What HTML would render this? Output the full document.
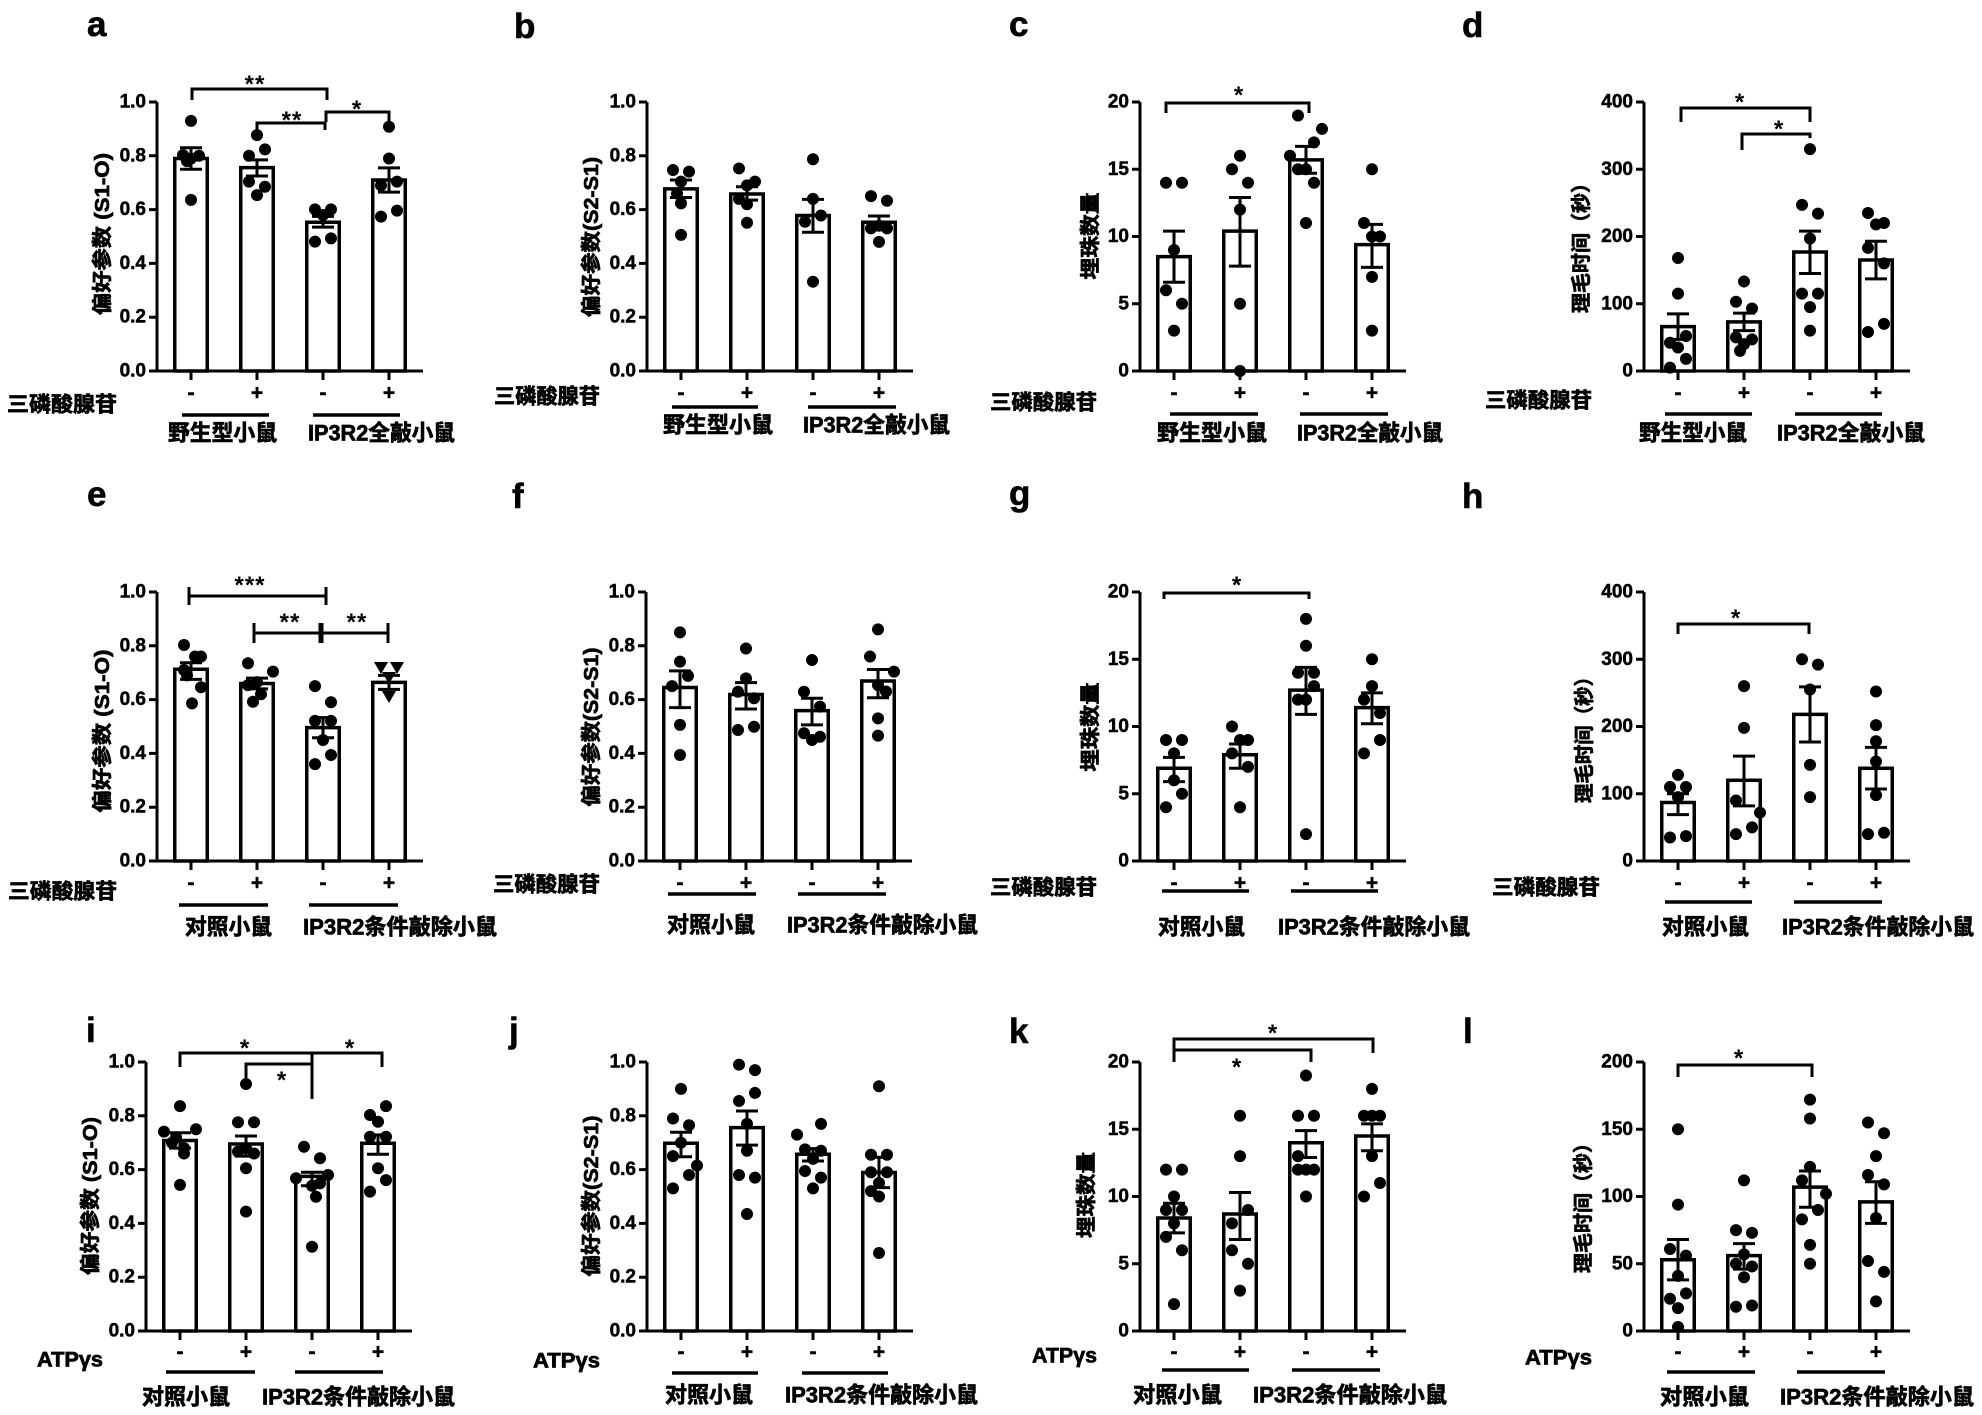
<!DOCTYPE html>
<html><head><meta charset="utf-8"><style>
html,body{margin:0;padding:0;background:#fff}
svg{display:block}
.ax{fill:none;stroke:#000;stroke-width:3}
.br{fill:#fff;stroke:#000;stroke-width:3.5px;vector-effect:non-scaling-stroke}
.dt{fill:none;stroke:#000;stroke-width:12px;stroke-linecap:round;vector-effect:non-scaling-stroke}
.er{fill:none;stroke:#000;stroke-width:3px;vector-effect:non-scaling-stroke}
.tl{font:bold 19px "Liberation Sans",sans-serif;text-anchor:end;dominant-baseline:central;stroke:#000;stroke-width:0.5px}
.cj{font-family:"Liberation Sans","Noto Sans CJK SC",sans-serif;font-weight:bold;font-size:21px;dominant-baseline:central;stroke:#000;stroke-width:0.7px}
.gt{font-family:"Liberation Sans","Noto Sans CJK SC",sans-serif;font-weight:bold;font-size:22px;dominant-baseline:central;stroke:#000;stroke-width:0.7px}
.yl{font-family:"Liberation Sans","Noto Sans CJK SC",sans-serif;font-weight:bold;font-size:20px;dominant-baseline:central;text-anchor:middle;stroke:#000;stroke-width:0.7px}
.pm{font:bold 21px "Liberation Sans",sans-serif;text-anchor:middle;dominant-baseline:central;stroke:#000;stroke-width:0.5px}
.st{font:bold 24px "Liberation Sans",sans-serif;text-anchor:middle;letter-spacing:1px}
.lt{font:bold 35px "Liberation Sans",sans-serif;stroke:#000;stroke-width:0.6px}
.gl{fill:none;stroke:#000;stroke-width:3.5}
.sg{fill:none;stroke:#000;stroke-width:3}
</style></head><body>
<svg width="1982" height="1415" viewBox="0 0 1982 1415" xmlns="http://www.w3.org/2000/svg">
<rect width="1982" height="1415" fill="#fff"/>

<!-- Panel letters -->
<text class="lt" x="87" y="36">a</text>
<text class="lt" x="514" y="38">b</text>
<text class="lt" x="1009" y="36">c</text>
<text class="lt" x="1462" y="37">d</text>
<text class="lt" x="87" y="506">e</text>
<text class="lt" x="512" y="508">f</text>
<text class="lt" x="1009" y="505">g</text>
<text class="lt" x="1462" y="508">h</text>
<text class="lt" x="86" y="1042">i</text>
<text class="lt" x="509" y="1042">j</text>
<text class="lt" x="1009" y="1043">k</text>
<text class="lt" x="1463" y="1043">l</text>

<!-- ================= Panel a ================= -->
<g transform="translate(157,371)">
<path class="ax" d="M0,-269V0H266"/>
<path class="ax" d="M-8,0H0M-8,-53.8H0M-8,-107.6H0M-8,-161.4H0M-8,-215.2H0M-8,-269H0M34,0v9M100,0v9M166,0v9M232,0v9"/>
<text class="tl" x="-11" y="0">0.0</text><text class="tl" x="-11" y="-53.8">0.2</text><text class="tl" x="-11" y="-107.6">0.4</text><text class="tl" x="-11" y="-161.4">0.6</text><text class="tl" x="-11" y="-215.2">0.8</text><text class="tl" x="-11" y="-269">1.0</text>
<text class="pm" x="34" y="22">-</text><text class="pm" x="100" y="22">+</text><text class="pm" x="166" y="22">-</text><text class="pm" x="232" y="22">+</text>
<g transform="scale(1,-269)">
<rect class="br" x="17.75" y="0" width="32.5" height=".79"/>
<rect class="br" x="83.75" y="0" width="32.5" height=".756"/>
<rect class="br" x="149.75" y="0" width="32.5" height=".553"/>
<rect class="br" x="215.75" y="0" width="32.5" height=".71"/>
<path class="dt" d="M34,.93h.01M26,.803h.01M42,.80h.01M34,.79h.01M30,.78h.01M34,.636h.01M100,.877h.01M108,.824h.01M92,.80h.01M92,.704h.01M108,.685h.01M100,.654h.01M158,.601h.01M174,.601h.01M166,.58h.01M158,.481h.01M174,.493h.01M232,.908h.01M232,.79h.01M240,.704h.01M224,.69h.01M240,.596h.01M224,.574h.01"/>
<path class="er" d="M34,.75V.83M23,.75h22M23,.83h22M100,.725V.785M89,.725h22M89,.785h22M166,.535V.575M155,.535h22M155,.575h22M232,.665V.755M221,.665h22M221,.755h22"/>
</g>
</g>
<text class="st" x="255" y="92">**</text>
<path class="sg" d="M192,100V89H327V100"/>
<text class="st" x="292" y="128">**</text>
<path class="sg" d="M257,130V123H325V130"/>
<text class="st" x="357" y="117">*</text>
<path class="sg" d="M326,122V112H389V122"/>
<text class="yl" transform="translate(103,234) rotate(-90)" textLength="162" lengthAdjust="spacingAndGlyphs">偏好参数 (S1-O)</text>
<text class="cj" x="7" y="405" textLength="110" lengthAdjust="spacingAndGlyphs">三磷酸腺苷</text>
<path class="gl" d="M182,415H269M313,415H400"/>
<text class="gt" x="168" y="433" textLength="109" lengthAdjust="spacingAndGlyphs">野生型小鼠</text>
<text class="gt" x="308" y="433" textLength="147" lengthAdjust="spacingAndGlyphs">IP3R2全敲小鼠</text>

<!-- ================= Panel b ================= -->
<g transform="translate(647,371)">
<path class="ax" d="M0,-269V0H266"/>
<path class="ax" d="M-8,0H0M-8,-53.8H0M-8,-107.6H0M-8,-161.4H0M-8,-215.2H0M-8,-269H0M34,0v9M100,0v9M166,0v9M232,0v9"/>
<text class="tl" x="-11" y="0">0.0</text><text class="tl" x="-11" y="-53.8">0.2</text><text class="tl" x="-11" y="-107.6">0.4</text><text class="tl" x="-11" y="-161.4">0.6</text><text class="tl" x="-11" y="-215.2">0.8</text><text class="tl" x="-11" y="-269">1.0</text>
<text class="pm" x="34" y="22">-</text><text class="pm" x="100" y="22">+</text><text class="pm" x="166" y="22">-</text><text class="pm" x="232" y="22">+</text>
<g transform="scale(1,-269)">
<rect class="br" x="17.75" y="0" width="32.5" height=".677"/>
<rect class="br" x="83.75" y="0" width="32.5" height=".658"/>
<rect class="br" x="149.75" y="0" width="32.5" height=".578"/>
<rect class="br" x="215.75" y="0" width="32.5" height=".553"/>
<path class="dt" d="M26,.747h.01M42,.741h.01M34,.704h.01M34,.623h.01M34,.506h.01M30,.66h.01M92,.753h.01M108,.704h.01M100,.69h.01M100,.62h.01M100,.551h.01M92,.64h.01M166,.787h.01M166,.64h.01M174,.578h.01M158,.555h.01M166,.332h.01M224,.65h.01M240,.633h.01M232,.54h.01M224,.53h.01M232,.48h.01M240,.53h.01"/>
<path class="er" d="M34,.645V.71M23,.645h22M23,.71h22M100,.635V.685M89,.635h22M89,.685h22M166,.516V.638M155,.516h22M155,.638h22M232,.526V.576M221,.526h22M221,.576h22"/>
</g>
</g>
<text class="yl" transform="translate(592,237) rotate(-90)" textLength="160" lengthAdjust="spacingAndGlyphs">偏好参数(S2-S1)</text>
<text class="cj" x="494" y="397" textLength="106" lengthAdjust="spacingAndGlyphs">三磷酸腺苷</text>
<path class="gl" d="M672,407H758M808,407H896"/>
<text class="gt" x="663" y="425" textLength="110" lengthAdjust="spacingAndGlyphs">野生型小鼠</text>
<text class="gt" x="803" y="425" textLength="147" lengthAdjust="spacingAndGlyphs">IP3R2全敲小鼠</text>

<!-- ================= Panel c ================= -->
<g transform="translate(1140,371)">
<path class="ax" d="M0,-269V0H266"/>
<path class="ax" d="M-8,0H0M-8,-67.25H0M-8,-134.5H0M-8,-201.75H0M-8,-269H0M34,0v9M100,0v9M166,0v9M232,0v9"/>
<text class="tl" x="-11" y="0">0</text><text class="tl" x="-11" y="-67.25">5</text><text class="tl" x="-11" y="-134.5">10</text><text class="tl" x="-11" y="-201.75">15</text><text class="tl" x="-11" y="-269">20</text>
<text class="pm" x="34" y="22">-</text><text class="pm" x="100" y="22">+</text><text class="pm" x="166" y="22">-</text><text class="pm" x="232" y="22">+</text>
<g transform="scale(1,-13.45)">
<rect class="br" x="17.75" y="0" width="32.5" height="8.5"/>
<rect class="br" x="83.75" y="0" width="32.5" height="10.4"/>
<rect class="br" x="149.75" y="0" width="32.5" height="15.7"/>
<rect class="br" x="215.75" y="0" width="32.5" height="9.4"/>
<path class="dt" d="M26,14h.01M42,14h.01M34,9h.01M26,6h.01M42,5h.01M34,3h.01M100,16h.01M92,15h.01M108,14h.01M100,12h.01M100,5h.01M100,0h.01M158,19h.01M182,18h.01M174,17h.01M150,16h.01M158,15h.01M166,15h.01M174,14h.01M166,11h.01M232,15h.01M224,11h.01M232,10h.01M240,10h.01M232,7h.01M232,3h.01"/>
<path class="er" d="M34,6.6V10.4M23,6.6h22M23,10.4h22M100,7.8V12.9M89,7.8h22M89,12.9h22M166,14.7V16.7M155,14.7h22M155,16.7h22M232,7.7V10.9M221,7.7h22M221,10.9h22"/>
</g>
</g>
<text class="st" x="1239" y="103">*</text>
<path class="sg" d="M1166,113V103H1309V113"/>
<text class="yl" transform="translate(1091,236) rotate(-90)" textLength="87" lengthAdjust="spacingAndGlyphs">埋珠数量</text>
<text class="cj" x="990" y="403" textLength="107" lengthAdjust="spacingAndGlyphs">三磷酸腺苷</text>
<path class="gl" d="M1170,414H1258M1300,414H1388"/>
<text class="gt" x="1157" y="433" textLength="110" lengthAdjust="spacingAndGlyphs">野生型小鼠</text>
<text class="gt" x="1297" y="433" textLength="146" lengthAdjust="spacingAndGlyphs">IP3R2全敲小鼠</text>

<!-- ================= Panel d ================= -->
<g transform="translate(1644,371)">
<path class="ax" d="M0,-269V0H266"/>
<path class="ax" d="M-8,0H0M-8,-67.25H0M-8,-134.5H0M-8,-201.75H0M-8,-269H0M34,0v9M100,0v9M166,0v9M232,0v9"/>
<text class="tl" x="-11" y="0">0</text><text class="tl" x="-11" y="-67.25">100</text><text class="tl" x="-11" y="-134.5">200</text><text class="tl" x="-11" y="-201.75">300</text><text class="tl" x="-11" y="-269">400</text>
<text class="pm" x="34" y="22">-</text><text class="pm" x="100" y="22">+</text><text class="pm" x="166" y="22">-</text><text class="pm" x="232" y="22">+</text>
<g transform="scale(1,-0.6725)">
<rect class="br" x="17.75" y="0" width="32.5" height="66"/>
<rect class="br" x="83.75" y="0" width="32.5" height="73"/>
<rect class="br" x="149.75" y="0" width="32.5" height="177"/>
<rect class="br" x="215.75" y="0" width="32.5" height="165"/>
<path class="dt" d="M34,168h.01M34,115h.01M42,52h.01M26,42h.01M34,35h.01M42,18h.01M26,5h.01M100,133h.01M92,103h.01M108,93h.01M92,50h.01M108,47h.01M100,40h.01M96,30h.01M166,330h.01M158,247h.01M174,234h.01M166,197h.01M158,115h.01M174,115h.01M166,95h.01M166,60h.01M224,235h.01M232,218h.01M240,220h.01M224,183h.01M240,160h.01M240,70h.01M224,58h.01"/>
<path class="er" d="M34,47V85M23,47h22M23,85h22M100,60V86M89,60h22M89,86h22M166,145V208M155,145h22M155,208h22M232,137V193M221,137h22M221,193h22"/>
</g>
</g>
<text class="st" x="1740" y="110">*</text>
<path class="sg" d="M1681,122V108H1810V122"/>
<text class="st" x="1779" y="137">*</text>
<path class="sg" d="M1742,150V134H1810V138"/>
<text class="yl" transform="translate(1582,243) rotate(-90)" textLength="140" lengthAdjust="spacingAndGlyphs">理毛时间（秒）</text>
<text class="cj" x="1485" y="401" textLength="107" lengthAdjust="spacingAndGlyphs">三磷酸腺苷</text>
<path class="gl" d="M1665,414H1752M1795,414H1882"/>
<text class="gt" x="1639" y="433" textLength="108" lengthAdjust="spacingAndGlyphs">野生型小鼠</text>
<text class="gt" x="1777" y="433" textLength="148" lengthAdjust="spacingAndGlyphs">IP3R2全敲小鼠</text>

<!-- ================= Panel e ================= -->
<g transform="translate(157,861)">
<path class="ax" d="M0,-269V0H266"/>
<path class="ax" d="M-8,0H0M-8,-53.8H0M-8,-107.6H0M-8,-161.4H0M-8,-215.2H0M-8,-269H0M34,0v9M100,0v9M166,0v9M232,0v9"/>
<text class="tl" x="-11" y="0">0.0</text><text class="tl" x="-11" y="-53.8">0.2</text><text class="tl" x="-11" y="-107.6">0.4</text><text class="tl" x="-11" y="-161.4">0.6</text><text class="tl" x="-11" y="-215.2">0.8</text><text class="tl" x="-11" y="-269">1.0</text>
<text class="pm" x="34" y="22">-</text><text class="pm" x="100" y="22">+</text><text class="pm" x="166" y="22">-</text><text class="pm" x="232" y="22">+</text>
<g transform="scale(1,-269)">
<rect class="br" x="17.75" y="0" width="32.5" height=".713"/>
<rect class="br" x="83.75" y="0" width="32.5" height=".66"/>
<rect class="br" x="149.75" y="0" width="32.5" height=".496"/>
<rect class="br" x="215.75" y="0" width="32.5" height=".664"/>
<path class="dt" d="M27,.803h.01M38,.76h.01M44,.76h.01M27,.71h.01M30,.69h.01M44,.646h.01M35,.586h.01M91,.735h.01M116,.704h.01M100,.665h.01M91,.654h.01M104,.62h.01M96,.592h.01M158,.65h.01M174,.59h.01M158,.521h.01M174,.521h.01M166,.45h.01M174,.394h.01M158,.36h.01"/>
<path class="er" d="M34,.675V.737M23,.675h22M23,.737h22M100,.64V.68M89,.64h22M89,.68h22M166,.458V.533M155,.458h22M155,.533h22M232,.638V.69M221,.638h22M221,.69h22"/>
</g>
<path d="M217,-199h14l-7,12zM233,-199h14l-7,12zM225,-189h14l-7,12zM225,-170h14l-7,12z" fill="#000"/>
</g>
<text class="st" x="250" y="593">***</text>
<path class="sg" d="M189,596H326M189,587V605M326,587V605"/>
<text class="st" x="290" y="630">**</text>
<text class="st" x="357" y="630">**</text>
<path class="sg" d="M254,633H388M254,623V643M388,623V643"/>
<path d="M321,623V643" fill="none" stroke="#000" stroke-width="5"/>
<text class="yl" transform="translate(103,731) rotate(-90)" textLength="163" lengthAdjust="spacingAndGlyphs">偏好参数 (S1-O)</text>
<text class="cj" x="8" y="892" textLength="109" lengthAdjust="spacingAndGlyphs">三磷酸腺苷</text>
<path class="gl" d="M179,905H268M309,905H398"/>
<text class="gt" x="185" y="927" textLength="87" lengthAdjust="spacingAndGlyphs">对照小鼠</text>
<text class="gt" x="303" y="927" textLength="194" lengthAdjust="spacingAndGlyphs">IP3R2条件敲除小鼠</text>

<!-- ================= Panel f ================= -->
<g transform="translate(646,861)">
<path class="ax" d="M0,-269V0H266"/>
<path class="ax" d="M-8,0H0M-8,-53.8H0M-8,-107.6H0M-8,-161.4H0M-8,-215.2H0M-8,-269H0M34,0v9M100,0v9M166,0v9M232,0v9"/>
<text class="tl" x="-11" y="0">0.0</text><text class="tl" x="-11" y="-53.8">0.2</text><text class="tl" x="-11" y="-107.6">0.4</text><text class="tl" x="-11" y="-161.4">0.6</text><text class="tl" x="-11" y="-215.2">0.8</text><text class="tl" x="-11" y="-269">1.0</text>
<text class="pm" x="34" y="22">-</text><text class="pm" x="100" y="22">+</text><text class="pm" x="166" y="22">-</text><text class="pm" x="232" y="22">+</text>
<g transform="scale(1,-269)">
<rect class="br" x="17.75" y="0" width="32.5" height=".645"/>
<rect class="br" x="83.75" y="0" width="32.5" height=".619"/>
<rect class="br" x="149.75" y="0" width="32.5" height=".559"/>
<rect class="br" x="215.75" y="0" width="32.5" height=".669"/>
<path class="dt" d="M34,.85h.01M34,.741h.01M42,.688h.01M26,.65h.01M34,.506h.01M34,.394h.01M100,.79h.01M100,.679h.01M92,.629h.01M108,.605h.01M108,.499h.01M92,.487h.01M166,.747h.01M158,.629h.01M174,.574h.01M158,.475h.01M174,.462h.01M166,.45h.01M232,.861h.01M224,.76h.01M248,.704h.01M232,.654h.01M240,.63h.01M232,.53h.01M232,.466h.01"/>
<path class="er" d="M34,.57V.707M23,.57h22M23,.707h22M100,.565V.663M89,.565h22M89,.663h22M166,.506V.605M155,.506h22M155,.605h22M232,.607V.712M221,.607h22M221,.712h22"/>
</g>
</g>
<text class="yl" transform="translate(592,727) rotate(-90)" textLength="159" lengthAdjust="spacingAndGlyphs">偏好参数(S2-S1)</text>
<text class="cj" x="493" y="885" textLength="107" lengthAdjust="spacingAndGlyphs">三磷酸腺苷</text>
<path class="gl" d="M668,894H756M798,894H886"/>
<text class="gt" x="667" y="925" textLength="88" lengthAdjust="spacingAndGlyphs">对照小鼠</text>
<text class="gt" x="787" y="925" textLength="191" lengthAdjust="spacingAndGlyphs">IP3R2条件敲除小鼠</text>

<!-- ================= Panel g ================= -->
<g transform="translate(1140,861)">
<path class="ax" d="M0,-269V0H266"/>
<path class="ax" d="M-8,0H0M-8,-67.25H0M-8,-134.5H0M-8,-201.75H0M-8,-269H0M34,0v9M100,0v9M166,0v9M232,0v9"/>
<text class="tl" x="-11" y="0">0</text><text class="tl" x="-11" y="-67.25">5</text><text class="tl" x="-11" y="-134.5">10</text><text class="tl" x="-11" y="-201.75">15</text><text class="tl" x="-11" y="-269">20</text>
<text class="pm" x="34" y="22">-</text><text class="pm" x="100" y="22">+</text><text class="pm" x="166" y="22">-</text><text class="pm" x="232" y="22">+</text>
<g transform="scale(1,-13.45)">
<rect class="br" x="17.75" y="0" width="32.5" height="6.9"/>
<rect class="br" x="83.75" y="0" width="32.5" height="7.9"/>
<rect class="br" x="149.75" y="0" width="32.5" height="12.7"/>
<rect class="br" x="215.75" y="0" width="32.5" height="11.4"/>
<path class="dt" d="M26,9h.01M42,9h.01M34,8h.01M34,6h.01M42,5h.01M26,4h.01M92,10h.01M100,9h.01M108,9h.01M92,8h.01M108,7h.01M100,4h.01M166,18h.01M166,16h.01M158,14h.01M174,14h.01M174,13h.01M158,12h.01M166,12h.01M166,2h.01M232,15h.01M232,13h.01M224,12h.01M240,11h.01M240,9h.01M224,8h.01"/>
<path class="er" d="M34,5.9V7.7M23,5.9h22M23,7.7h22M100,6.9V8.7M89,6.9h22M89,8.7h22M166,10.9V14.4M155,10.9h22M155,14.4h22M232,10.2V12.5M221,10.2h22M221,12.5h22"/>
</g>
</g>
<text class="st" x="1237" y="593">*</text>
<path class="sg" d="M1164,599V593H1309V599"/>
<text class="yl" transform="translate(1091,727) rotate(-90)" textLength="89" lengthAdjust="spacingAndGlyphs">埋珠数量</text>
<text class="cj" x="990" y="888" textLength="107" lengthAdjust="spacingAndGlyphs">三磷酸腺苷</text>
<path class="gl" d="M1162,891H1249M1291,891H1378"/>
<text class="gt" x="1158" y="927" textLength="87" lengthAdjust="spacingAndGlyphs">对照小鼠</text>
<text class="gt" x="1278" y="927" textLength="192" lengthAdjust="spacingAndGlyphs">IP3R2条件敲除小鼠</text>

<!-- ================= Panel h ================= -->
<g transform="translate(1644,861)">
<path class="ax" d="M0,-269V0H266"/>
<path class="ax" d="M-8,0H0M-8,-67.25H0M-8,-134.5H0M-8,-201.75H0M-8,-269H0M34,0v9M100,0v9M166,0v9M232,0v9"/>
<text class="tl" x="-11" y="0">0</text><text class="tl" x="-11" y="-67.25">100</text><text class="tl" x="-11" y="-134.5">200</text><text class="tl" x="-11" y="-201.75">300</text><text class="tl" x="-11" y="-269">400</text>
<text class="pm" x="34" y="22">-</text><text class="pm" x="100" y="22">+</text><text class="pm" x="166" y="22">-</text><text class="pm" x="232" y="22">+</text>
<g transform="scale(1,-0.6725)">
<rect class="br" x="17.75" y="0" width="32.5" height="87"/>
<rect class="br" x="83.75" y="0" width="32.5" height="120"/>
<rect class="br" x="149.75" y="0" width="32.5" height="218"/>
<rect class="br" x="215.75" y="0" width="32.5" height="138"/>
<path class="dt" d="M34,128h.01M26,110h.01M42,110h.01M34,95h.01M26,35h.01M42,37h.01M100,260h.01M100,198h.01M92,90h.01M116,72h.01M108,50h.01M92,40h.01M158,300h.01M174,292h.01M166,255h.01M166,143h.01M166,95h.01M232,252h.01M232,202h.01M232,178h.01M232,148h.01M232,98h.01M224,40h.01M240,42h.01"/>
<path class="er" d="M34,69V100M23,69h22M23,100h22M100,82V156M89,82h22M89,156h22M166,177V259M155,177h22M155,259h22M232,107V169M221,107h22M221,169h22"/>
</g>
</g>
<text class="st" x="1736" y="626">*</text>
<path class="sg" d="M1678,634V624H1809V634"/>
<text class="yl" transform="translate(1585,735) rotate(-90)" textLength="136" lengthAdjust="spacingAndGlyphs">理毛时间（秒）</text>
<text class="cj" x="1492" y="888" textLength="108" lengthAdjust="spacingAndGlyphs">三磷酸腺苷</text>
<path class="gl" d="M1665,902H1752M1794,902H1882"/>
<text class="gt" x="1662" y="927" textLength="87" lengthAdjust="spacingAndGlyphs">对照小鼠</text>
<text class="gt" x="1782" y="927" textLength="192" lengthAdjust="spacingAndGlyphs">IP3R2条件敲除小鼠</text>

<!-- ================= Panel i ================= -->
<g transform="translate(146,1331)">
<path class="ax" d="M0,-269V0H266"/>
<path class="ax" d="M-8,0H0M-8,-53.8H0M-8,-107.6H0M-8,-161.4H0M-8,-215.2H0M-8,-269H0M34,0v9M100,0v9M166,0v9M232,0v9"/>
<text class="tl" x="-11" y="0">0.0</text><text class="tl" x="-11" y="-53.8">0.2</text><text class="tl" x="-11" y="-107.6">0.4</text><text class="tl" x="-11" y="-161.4">0.6</text><text class="tl" x="-11" y="-215.2">0.8</text><text class="tl" x="-11" y="-269">1.0</text>
<text class="pm" x="34" y="21">-</text><text class="pm" x="100" y="21">+</text><text class="pm" x="166" y="21">-</text><text class="pm" x="232" y="21">+</text>
<g transform="scale(1,-269)">
<rect class="br" x="17.75" y="0" width="32.5" height=".708"/>
<rect class="br" x="83.75" y="0" width="32.5" height=".695"/>
<rect class="br" x="149.75" y="0" width="32.5" height=".575"/>
<rect class="br" x="215.75" y="0" width="32.5" height=".698"/>
<path class="dt" d="M34,.836h.01M50,.75h.01M18,.741h.01M26,.70h.01M38,.68h.01M38,.66h.01M34,.543h.01M30,.72h.01M100,.918h.01M92,.776h.01M108,.776h.01M92,.667h.01M108,.66h.01M100,.605h.01M100,.444h.01M100,.68h.01M158,.685h.01M174,.642h.01M182,.58h.01M150,.568h.01M166,.54h.01M174,.549h.01M170,.499h.01M166,.313h.01M240,.836h.01M224,.803h.01M232,.778h.01M224,.722h.01M240,.722h.01M232,.605h.01M240,.561h.01M224,.518h.01"/>
<path class="er" d="M34,.68V.737M23,.68h22M23,.737h22M100,.65V.725M89,.65h22M89,.725h22M166,.54V.59M155,.54h22M155,.59h22M232,.657V.729M221,.657h22M221,.729h22"/>
</g>
</g>
<text class="st" x="245" y="1056">*</text>
<text class="st" x="350" y="1056">*</text>
<path class="sg" d="M180,1067V1053H382V1067M312,1053V1099"/>
<text class="st" x="282" y="1088">*</text>
<path class="sg" d="M246,1078V1064H312"/>
<text class="yl" transform="translate(91,1196) rotate(-90)" textLength="158" lengthAdjust="spacingAndGlyphs">偏好参数 (S1-O)</text>
<text class="cj" x="37" y="1360" textLength="66" lengthAdjust="spacingAndGlyphs">ATPγs</text>
<path class="gl" d="M166,1372H255M295,1372H383"/>
<text class="gt" x="142" y="1397" textLength="88" lengthAdjust="spacingAndGlyphs">对照小鼠</text>
<text class="gt" x="262" y="1397" textLength="193" lengthAdjust="spacingAndGlyphs">IP3R2条件敲除小鼠</text>

<!-- ================= Panel j ================= -->
<g transform="translate(647,1331)">
<path class="ax" d="M0,-269V0H266"/>
<path class="ax" d="M-8,0H0M-8,-53.8H0M-8,-107.6H0M-8,-161.4H0M-8,-215.2H0M-8,-269H0M34,0v9M100,0v9M166,0v9M232,0v9"/>
<text class="tl" x="-11" y="0">0.0</text><text class="tl" x="-11" y="-53.8">0.2</text><text class="tl" x="-11" y="-107.6">0.4</text><text class="tl" x="-11" y="-161.4">0.6</text><text class="tl" x="-11" y="-215.2">0.8</text><text class="tl" x="-11" y="-269">1.0</text>
<text class="pm" x="34" y="21">-</text><text class="pm" x="100" y="21">+</text><text class="pm" x="166" y="21">-</text><text class="pm" x="232" y="21">+</text>
<g transform="scale(1,-269)">
<rect class="br" x="17.75" y="0" width="32.5" height=".698"/>
<rect class="br" x="83.75" y="0" width="32.5" height=".756"/>
<rect class="br" x="149.75" y="0" width="32.5" height=".657"/>
<rect class="br" x="215.75" y="0" width="32.5" height=".589"/>
<path class="dt" d="M34,.90h.01M26,.79h.01M42,.765h.01M34,.70h.01M26,.65h.01M50,.615h.01M42,.58h.01M26,.53h.01M92,.99h.01M108,.97h.01M108,.885h.01M92,.855h.01M100,.77h.01M100,.67h.01M92,.58h.01M108,.57h.01M100,.435h.01M174,.77h.01M150,.73h.01M158,.675h.01M174,.67h.01M166,.64h.01M158,.595h.01M174,.57h.01M166,.53h.01M232,.91h.01M224,.655h.01M240,.655h.01M224,.59h.01M240,.59h.01M232,.55h.01M224,.52h.01M232,.50h.01M232,.29h.01"/>
<path class="er" d="M34,.648V.739M23,.648h22M23,.739h22M100,.691V.818M89,.691h22M89,.818h22M166,.632V.678M155,.632h22M155,.678h22M232,.533V.646M221,.533h22M221,.646h22"/>
</g>
</g>
<text class="yl" transform="translate(592,1196) rotate(-90)" textLength="161" lengthAdjust="spacingAndGlyphs">偏好参数(S2-S1)</text>
<text class="cj" x="533" y="1361" textLength="67" lengthAdjust="spacingAndGlyphs">ATPγs</text>
<path class="gl" d="M672,1373H758M802,1373H888"/>
<text class="gt" x="665" y="1395" textLength="88" lengthAdjust="spacingAndGlyphs">对照小鼠</text>
<text class="gt" x="785" y="1395" textLength="193" lengthAdjust="spacingAndGlyphs">IP3R2条件敲除小鼠</text>

<!-- ================= Panel k ================= -->
<g transform="translate(1140,1331)">
<path class="ax" d="M0,-269V0H266"/>
<path class="ax" d="M-8,0H0M-8,-67.25H0M-8,-134.5H0M-8,-201.75H0M-8,-269H0M34,0v9M100,0v9M166,0v9M232,0v9"/>
<text class="tl" x="-11" y="0">0</text><text class="tl" x="-11" y="-67.25">5</text><text class="tl" x="-11" y="-134.5">10</text><text class="tl" x="-11" y="-201.75">15</text><text class="tl" x="-11" y="-269">20</text>
<text class="pm" x="34" y="21">-</text><text class="pm" x="100" y="21">+</text><text class="pm" x="166" y="21">-</text><text class="pm" x="232" y="21">+</text>
<g transform="scale(1,-13.45)">
<rect class="br" x="17.75" y="0" width="32.5" height="8.4"/>
<rect class="br" x="83.75" y="0" width="32.5" height="8.7"/>
<rect class="br" x="149.75" y="0" width="32.5" height="14.0"/>
<rect class="br" x="215.75" y="0" width="32.5" height="14.5"/>
<path class="dt" d="M26,12h.01M42,12h.01M34,10h.01M26,9h.01M42,9h.01M34,8h.01M26,7h.01M42,6h.01M34,2h.01M100,16h.01M100,13h.01M108,9h.01M92,8h.01M92,6h.01M108,5h.01M100,3h.01M166,19h.01M158,16h.01M174,16h.01M158,13h.01M158,12h.01M166,12h.01M174,12h.01M166,10h.01M232,18h.01M224,16h.01M232,16h.01M240,16h.01M232,13h.01M240,11h.01M224,10h.01"/>
<path class="er" d="M34,7.3V9.5M23,7.3h22M23,9.5h22M100,6.8V10.3M89,6.8h22M89,10.3h22M166,12.9V14.9M155,12.9h22M155,14.9h22M232,13.4V15.4M221,13.4h22M221,15.4h22"/>
</g>
</g>
<text class="st" x="1273" y="1041">*</text>
<path class="sg" d="M1174,1062V1039H1373V1053M1174,1050H1311V1062"/>
<text class="st" x="1237" y="1075">*</text>
<text class="yl" transform="translate(1087,1195) rotate(-90)" textLength="86" lengthAdjust="spacingAndGlyphs">埋珠数量</text>
<text class="cj" x="1032" y="1356" textLength="65" lengthAdjust="spacingAndGlyphs">ATPγs</text>
<path class="gl" d="M1162,1370H1249M1292,1370H1380"/>
<text class="gt" x="1133" y="1395" textLength="89" lengthAdjust="spacingAndGlyphs">对照小鼠</text>
<text class="gt" x="1253" y="1395" textLength="194" lengthAdjust="spacingAndGlyphs">IP3R2条件敲除小鼠</text>

<!-- ================= Panel l ================= -->
<g transform="translate(1644,1331)">
<path class="ax" d="M0,-269V0H266"/>
<path class="ax" d="M-8,0H0M-8,-67.25H0M-8,-134.5H0M-8,-201.75H0M-8,-269H0M34,0v9M100,0v9M166,0v9M232,0v9"/>
<text class="tl" x="-11" y="0">0</text><text class="tl" x="-11" y="-67.25">50</text><text class="tl" x="-11" y="-134.5">100</text><text class="tl" x="-11" y="-201.75">150</text><text class="tl" x="-11" y="-269">200</text>
<text class="pm" x="34" y="21">-</text><text class="pm" x="100" y="21">+</text><text class="pm" x="166" y="21">-</text><text class="pm" x="232" y="21">+</text>
<g transform="scale(1,-1.345)">
<rect class="br" x="17.75" y="0" width="32.5" height="53"/>
<rect class="br" x="83.75" y="0" width="32.5" height="56"/>
<rect class="br" x="149.75" y="0" width="32.5" height="107"/>
<rect class="br" x="215.75" y="0" width="32.5" height="96"/>
<path class="dt" d="M34,150h.01M34,94h.01M26,61h.01M42,56h.01M34,41h.01M42,28h.01M26,24h.01M34,17h.01M34,3h.01M100,112h.01M92,75h.01M108,73h.01M100,57h.01M92,50h.01M108,48h.01M100,40h.01M92,18h.01M108,19h.01M166,172h.01M166,158h.01M166,122h.01M158,112h.01M182,102h.01M174,90h.01M158,83h.01M166,64h.01M166,50h.01M224,155h.01M240,147h.01M232,130h.01M224,116h.01M240,109h.01M232,84h.01M224,52h.01M240,44h.01M232,22h.01"/>
<path class="er" d="M34,38V68M23,38h22M23,68h22M100,46V65M89,46h22M89,65h22M166,92V119M155,92h22M155,119h22M232,80V111M221,80h22M221,111h22"/>
</g>
</g>
<text class="st" x="1739" y="1066">*</text>
<path class="sg" d="M1678,1077V1065H1812V1077"/>
<text class="yl" transform="translate(1584,1203) rotate(-90)" textLength="140" lengthAdjust="spacingAndGlyphs">理毛时间（秒）</text>
<text class="cj" x="1525" y="1358" textLength="67" lengthAdjust="spacingAndGlyphs">ATPγs</text>
<path class="gl" d="M1667,1372H1755M1797,1372H1885"/>
<text class="gt" x="1660" y="1397" textLength="89" lengthAdjust="spacingAndGlyphs">对照小鼠</text>
<text class="gt" x="1780" y="1397" textLength="194" lengthAdjust="spacingAndGlyphs">IP3R2条件敲除小鼠</text>

</svg>
</body></html>
